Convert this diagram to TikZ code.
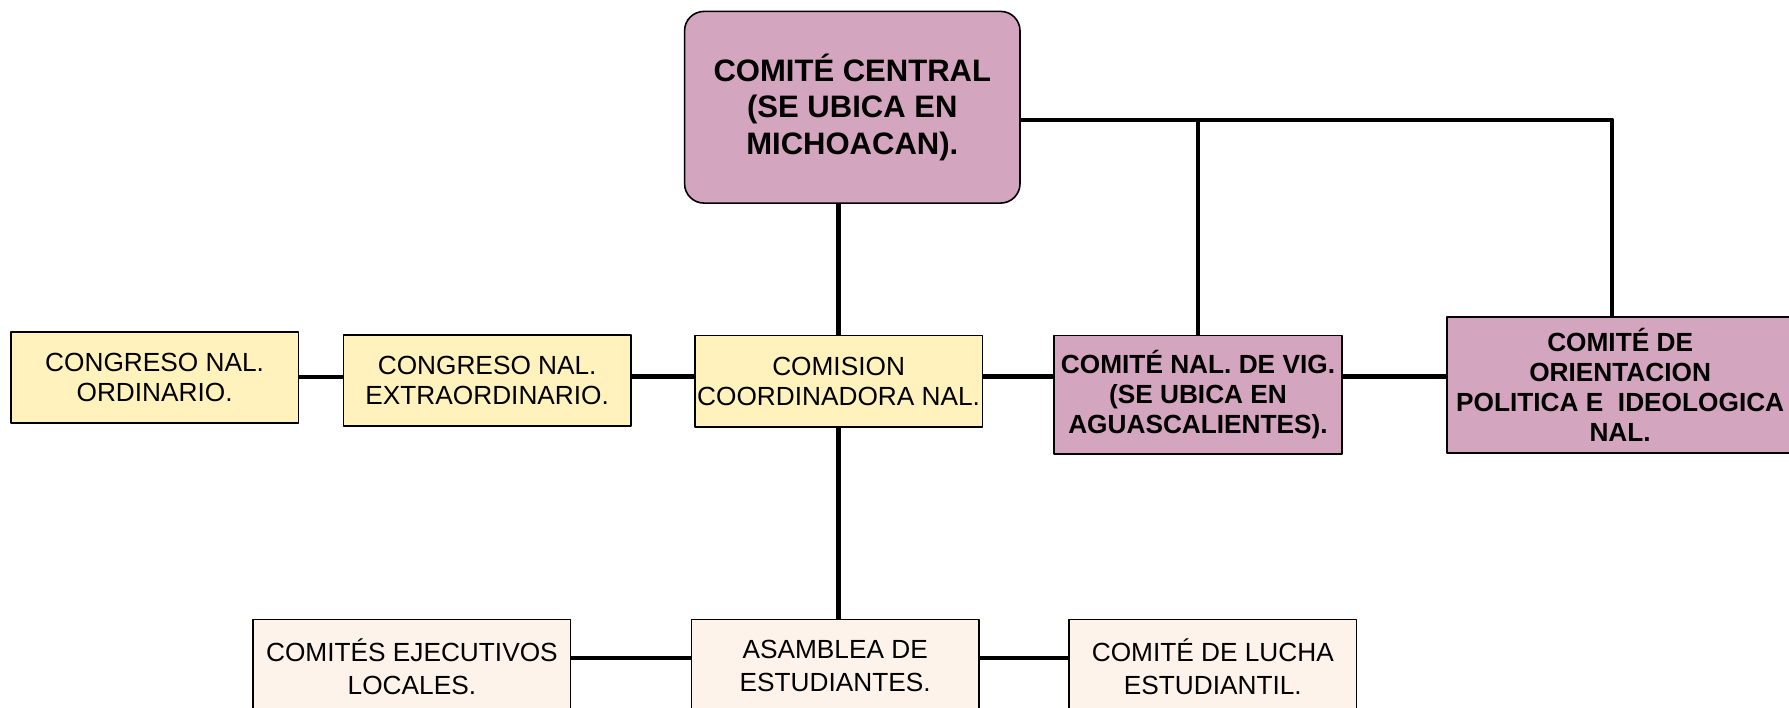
\documentclass[tikz,border=0pt]{standalone}
\usepackage{fontspec}
\setmainfont{Liberation Sans}
\definecolor{rosa}{RGB}{212,165,190}
\definecolor{amarillo}{RGB}{255,242,189}
\definecolor{crema}{RGB}{253,243,234}
\def\u{0.5pt}
\begin{document}
\begin{tikzpicture}[x=\u,y=-\u,line join=round,
    caja/.style={draw,line width=.7pt,inner sep=1pt,align=center,
        font=\fontsize{11.5}{13.2}\selectfont,minimum width=252*\u,minimum height=80*\u},
    amar/.style={caja,fill=amarillo},
    rosac/.style={caja,fill=rosa,font=\fontsize{11.5}{13.2}\selectfont\bfseries},
    crem/.style={caja,fill=crema,font=\fontsize{11.5}{14.5}\selectfont,minimum height=82*\u},
    linea/.style={line width=1.9pt}]
    \def\W{1568} \def\H{620}
    \useasboundingbox (0,0) rectangle (\W,\H);
    \clip (0,0) rectangle (\W,\H);
    % cajas
    \node[rosac,rounded corners=8.5pt,minimum width=294*\u,minimum height=168*\u,
        font=\fontsize{13.6}{16}\selectfont\bfseries] (cc) at (747,94)
        {COMITÉ CENTRAL\\(SE UBICA EN\\MICHOACAN).};
    \node[amar] (ord) at (135.5,331) {CONGRESO NAL.\\ORDINARIO.};
    \node[amar] (ext) at (427,333.5) {CONGRESO NAL.\\EXTRAORDINARIO.};
    \node[amar] (ccn) at (735,334) {COMISION\\COORDINADORA NAL.};
    \node[rosac,minimum height=104*\u] (vig) at (1050,346)
        {COMITÉ NAL. DE VIG.\\(SE UBICA EN\\AGUASCALIENTES).};
    \node[rosac,minimum width=304*\u,minimum height=119*\u] (cop) at (1420,337.5)
        {COMITÉ DE\\ORIENTACION\\POLITICA E\ \ IDEOLOGICA\\NAL.};
    \node[crem,minimum width=278*\u] (cel) at (361,584) {COMITÉS EJECUTIVOS\\LOCALES.};
    \node[crem] (ae) at (732,584) {ASAMBLEA DE\\ESTUDIANTES.};
    \node[crem] (cle) at (1063,584) {COMITÉ DE LUCHA\\ESTUDIANTIL.};
    % lineas
    \draw[linea] ([yshift=-5.5pt]cc.east) -| ([xshift=-3.5pt]cop.north);
    \draw[linea] ([yshift=-5.5pt]cc.east -| vig.north) -- (vig.north);
    \draw[linea] (cc.south -| ccn.north) -- (ccn.north);
    \draw[linea] ([yshift=1.5pt]ext.west) -- ([yshift=1.5pt]ext.west -| ord.east);
    \draw[linea] ([yshift=2pt]ccn.west) -- ([yshift=2pt]ccn.west -| ext.east);
    \draw[linea] ([yshift=2pt]ccn.east) -- ([yshift=2pt]ccn.east -| vig.west);
    \draw[linea] ([yshift=2pt]vig.east |- ccn.east) -- ([yshift=2pt]ccn.east -| cop.west);
    \draw[linea] (ccn.south) -- (ccn.south |- ae.north);
    \draw[linea] ([yshift=3.5pt]ae.west) -- ([yshift=3.5pt]ae.west -| cel.east);
    \draw[linea] ([yshift=3.5pt]ae.east) -- ([yshift=3.5pt]ae.east -| cle.west);
\end{tikzpicture}
\end{document}
